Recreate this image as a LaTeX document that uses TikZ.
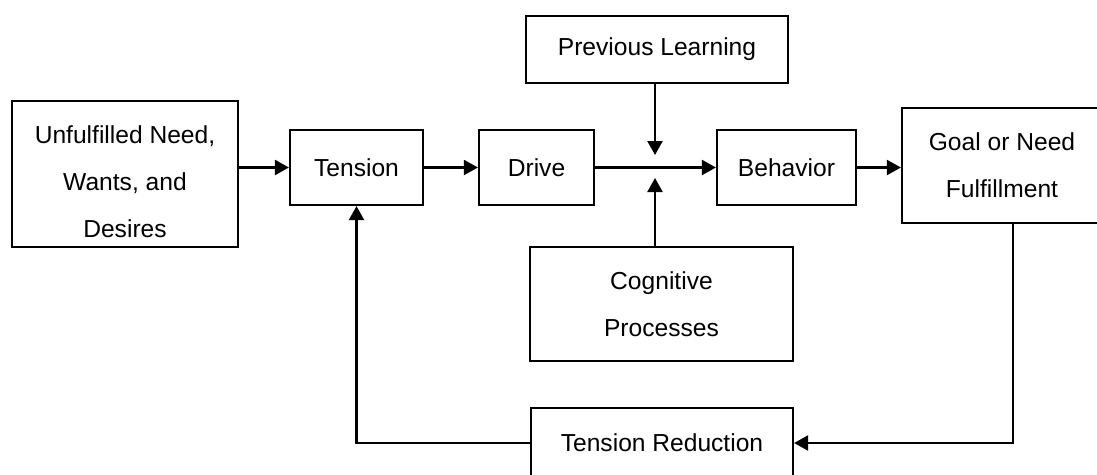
\documentclass[tikz,border=0pt]{standalone}
\usepackage{fontspec}
\setmainfont{Liberation Sans}
\usetikzlibrary{arrows.meta}
\begin{document}
\begin{tikzpicture}[x=1pt,y=-1pt,
  box/.style={draw, line width=2.2pt, inner sep=0pt, align=center,
    font=\fontsize{24.6}{47}\selectfont},
  lbl/.style={inner sep=0pt, align=center, font=\fontsize{24.6}{47}\selectfont},
  arr/.style={-{Triangle[length=14pt,width=15pt]}, line width=2.2pt}]
\useasboundingbox (0,0) rectangle (1097,474);

% boxes
\node[box, minimum width=226pt, minimum height=146pt] (need) at (125,174) {};
\node[lbl] (needtext) at (125,182) {Unfulfilled Need,\\Wants, and\\Desires};
\node[box, minimum width=133pt, minimum height=75pt] (tension) at (356.5,167.5) {Tension};
\node[box, minimum width=115pt, minimum height=75pt] (drive) at (536.5,167.5) {Drive};
\node[box, minimum width=139pt, minimum height=75pt] (behav) at (786.5,167.5) {Behavior};
\node[box, minimum width=262pt, minimum height=67pt] (prev) at (657,49.5) {Previous Learning};
\node[box, minimum width=200pt, minimum height=115pt] (goal) at (1002,165.5) {Goal or Need\\Fulfillment};
\node[box, minimum width=263pt, minimum height=114pt] (cog) at (661.5,304) {Cognitive\\Processes};
\node[box, minimum width=262pt, minimum height=70pt] (red) at (662,443) {Tension Reduction};

% points where the side influences meet the drive line
\coordinate (jt) at (655,155);
\coordinate (jb) at (655,178);
% where the feedback line leaves the goal box
\coordinate (gout) at (1013,0);

% forward chain
\draw[arr] (need.east |- tension.west) -- (tension.west);
\draw[arr] (tension) -- (drive);
\draw[arr] (drive) -- (behav);
\draw[arr] (prev.south -| jt) -- (jt);
\draw[arr] (cog.north -| jb) -- (jb);
\draw[arr] (behav.east) -- (behav.east -| goal.west);

% feedback loop
\draw[arr] (goal.south -| gout) |- (red.east);
\draw[arr] (red.west) -| (tension.south);
\end{tikzpicture}
\end{document}
